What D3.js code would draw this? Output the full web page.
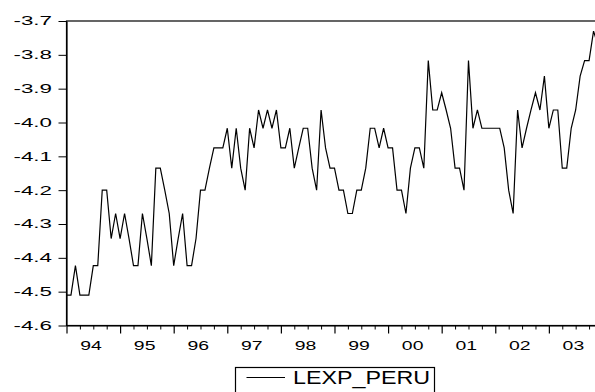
<!DOCTYPE html>
<html>
<head>
<meta charset="utf-8">
<script src="https://cdn.jsdelivr.net/npm/d3@7"></script>
<style>
  html, body { margin: 0; padding: 0; background: #fff; }
  svg { display: block; }
  text { font-family: "Liberation Sans", Arial, sans-serif; fill: #000; }
</style>
</head>
<body>
<svg id="chart" width="595" height="392"></svg>
<script>
// Monthly series 1994M01 .. 2003M12
const seriesName = "LEXP_PERU";
const startYear = 1994;
const lexpPeru = [
  -4.510, -4.510, -4.423, -4.510, -4.510, -4.510, -4.423, -4.423, -4.200, -4.200, -4.343, -4.269,
  -4.343, -4.269, -4.343, -4.423, -4.423, -4.269, -4.343, -4.423, -4.135, -4.135, -4.200, -4.269,
  -4.423, -4.343, -4.269, -4.423, -4.423, -4.343, -4.200, -4.200, -4.135, -4.075, -4.075, -4.075,
  -4.017, -4.135, -4.017, -4.135, -4.200, -4.017, -4.075, -3.963, -4.017, -3.963, -4.017, -3.963,
  -4.075, -4.075, -4.017, -4.135, -4.075, -4.017, -4.017, -4.135, -4.200, -3.963, -4.075, -4.135,
  -4.135, -4.200, -4.200, -4.269, -4.269, -4.200, -4.200, -4.135, -4.017, -4.017, -4.075, -4.017,
  -4.075, -4.075, -4.200, -4.200, -4.269, -4.135, -4.075, -4.075, -4.135, -3.817, -3.963, -3.963,
  -3.912, -3.963, -4.017, -4.135, -4.135, -4.200, -3.817, -4.017, -3.963, -4.017, -4.017, -4.017,
  -4.017, -4.017, -4.075, -4.200, -4.269, -3.963, -4.075, -4.017, -3.963, -3.912, -3.963, -3.863,
  -4.017, -3.963, -3.963, -4.135, -4.135, -4.017, -3.963, -3.863, -3.817, -3.817, -3.730, -3.772
];
const yTicks = [-4.6, -4.5, -4.4, -4.3, -4.2, -4.1, -4.0, -3.9, -3.8, -3.7];
const yearLabels = ["94", "95", "96", "97", "98", "99", "00", "01", "02", "03"];

const svg = d3.select("#chart");
const mLeft = 66.5, mRight = 598, mTop = 21, mBottom = 325.5;

const x = d3.scaleLinear().domain([0, lexpPeru.length - 1]).range([mLeft, mRight]);
const y = d3.scaleLinear().domain([-4.6, -3.7]).range([mBottom, mTop]);

// frame
svg.append("rect")
  .attr("x", mLeft).attr("y", mTop)
  .attr("width", mRight - mLeft).attr("height", mBottom - mTop)
  .attr("fill", "none").attr("stroke", "#000").attr("stroke-width", 1.2);

// Y axis
const yAxis = svg.append("g")
  .attr("transform", `translate(${mLeft},0)`)
  .call(d3.axisLeft(y).tickValues(yTicks).tickSize(8).tickSizeOuter(0)
        .tickFormat(d => d.toFixed(1)));
yAxis.select(".domain").attr("stroke", "#000").attr("stroke-width", 1.2);
yAxis.selectAll(".tick line").attr("stroke", "#000").attr("stroke-width", 1);
yAxis.selectAll(".tick text")
  .attr("x", -14.5)
  .attr("font-size", 12)
  .attr("textLength", 38.5)
  .attr("lengthAdjust", "spacingAndGlyphs")
  .style("font-family", "'Liberation Sans', Arial, sans-serif");

// X axis: year ticks (major) and quarterly ticks (minor)
const quarterIdx = d3.range(0, lexpPeru.length, 3);
const yearIdx = d3.range(0, lexpPeru.length, 12);
const xAxisMinor = svg.append("g")
  .attr("transform", `translate(0,${mBottom})`)
  .call(d3.axisBottom(x).tickValues(quarterIdx.filter(i => i % 12 !== 0)).tickSize(4).tickFormat(""));
xAxisMinor.select(".domain").remove();
xAxisMinor.selectAll(".tick line").attr("stroke", "#000").attr("stroke-width", 1);

const xAxisMajor = svg.append("g")
  .attr("transform", `translate(0,${mBottom})`)
  .call(d3.axisBottom(x).tickValues(yearIdx).tickSize(8).tickSizeOuter(0).tickFormat(""));
xAxisMajor.select(".domain").attr("stroke", "#000").attr("stroke-width", 1.2);
xAxisMajor.selectAll(".tick line").attr("stroke", "#000").attr("stroke-width", 1.2);

// year labels centred within each year
svg.append("g").selectAll("text")
  .data(yearLabels)
  .join("text")
  .attr("x", (d, i) => x(i * 12 + 5.5))
  .attr("y", 349.5)
  .attr("text-anchor", "middle")
  .attr("font-size", 13)
  .attr("textLength", 21.6)
  .attr("lengthAdjust", "spacingAndGlyphs")
  .text(d => d);

// series line
const line = d3.line()
  .x((d, i) => x(i))
  .y(d => y(d));
svg.append("path")
  .datum(lexpPeru)
  .attr("d", line)
  .attr("fill", "none")
  .attr("stroke", "#000")
  .attr("stroke-width", 1.2)
  .attr("stroke-linejoin", "miter");

// legend
const lg = svg.append("g");
lg.append("rect")
  .attr("x", 235.5).attr("y", 367.5)
  .attr("width", 199).attr("height", 30)
  .attr("fill", "none").attr("stroke", "#000").attr("stroke-width", 1.2);
lg.append("line")
  .attr("x1", 246.5).attr("x2", 285)
  .attr("y1", 377.5).attr("y2", 377.5)
  .attr("stroke", "#000").attr("stroke-width", 1.2);
lg.append("text")
  .attr("x", 293).attr("y", 383.5)
  .attr("font-size", 18)
  .attr("textLength", 137)
  .attr("lengthAdjust", "spacingAndGlyphs")
  .text(seriesName);
</script>
</body>
</html>
